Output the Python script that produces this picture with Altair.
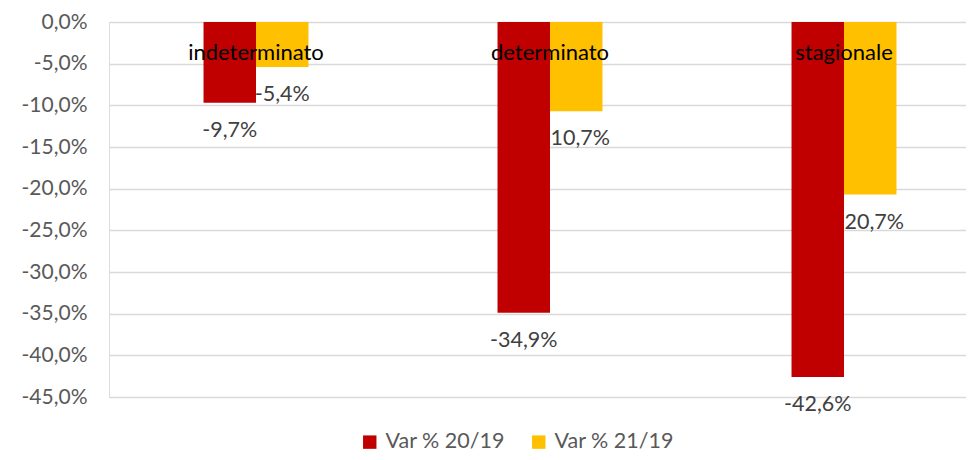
import altair as alt
import pandas as pd

categories = ["indeterminato", "determinato", "stagionale"]
series = ["Var % 20/19", "Var % 21/19"]
var_20_19 = [-9.7, -34.9, -42.6]
var_21_19 = [-5.4, -10.7, -20.7]
y_ticks = [0, -5, -10, -15, -20, -25, -30, -35, -40, -45]

rows = []
for c, a, b in zip(categories, var_20_19, var_21_19):
    rows.append({"cat": c, "serie": series[0], "val": a})
    rows.append({"cat": c, "serie": series[1], "val": b})
df = pd.DataFrame(rows)
df["label"] = df["val"].map(lambda v: f"{v:.1f}".replace(".", ",") + "%")
cats_df = pd.DataFrame({"cat": categories})

FONT = "Lato"
colors = ["#C00000", "#FFC000"]

x_scale = alt.Scale(domain=categories, range=[0, 882], paddingInner=0.643, paddingOuter=0.3215)
y_scale = alt.Scale(domain=[-45, 0], nice=False)

base = alt.Chart(df).encode(
    x=alt.X("cat:N", scale=x_scale, axis=None, sort=categories),
    xOffset=alt.XOffset("serie:N", sort=series),
)

labels = base.mark_text(fontSize=21.5, font=FONT, color="#404040", baseline="middle", dy=28).encode(
    y=alt.Y("val:Q", scale=y_scale),
    text="label:N",
)

bars = base.mark_bar().encode(
    y=alt.Y(
        "val:Q",
        scale=y_scale,
        title=None,
        axis=alt.Axis(
            values=y_ticks,
            labelExpr="(datum.value < 0 ? '-' : '') + replace(format(abs(datum.value), '.1f'), '.', ',') + '%'",
            domain=False,
            ticks=False,
            grid=True,
            gridColor="#D9D9D9",
            gridWidth=1.5,
            labelColor="#595959",
            labelFontSize=21,
            labelFont=FONT,
            labelPadding=22,
        ),
    ),
    y2=alt.datum(0),
    color=alt.Color(
        "serie:N",
        scale=alt.Scale(domain=series, range=colors),
        sort=series,
        legend=alt.Legend(
            title=None,
            orient="none",
            direction="horizontal",
            legendX=250,
            legendY=409,
            symbolType="square",
            symbolSize=180,
            symbolStrokeWidth=0,
            symbolOpacity=1,
            labelFontSize=21.5,
            labelFont=FONT,
            labelColor="#595959",
            labelOffset=5,
            columnPadding=23,
            labelLimit=300,
        ),
    ),
)

cat_labels = alt.Chart(cats_df).mark_text(
    fontSize=22, font=FONT, color="#000000", baseline="middle", dy=31
).encode(
    x=alt.X("cat:N", scale=x_scale, axis=None, sort=categories),
    y=alt.Y("zero:Q", scale=y_scale),
    text="cat:N",
).transform_calculate(zero="0")

chart = alt.layer(labels, bars, cat_labels).properties(
    width=857,
    height=375,
    autosize=alt.AutoSizeParams(type="none"),
    padding={"left": 101, "top": 14, "right": 0, "bottom": 55},
).configure_view(stroke=None).configure(background="white")

chart.save("out.html", embed_options={"renderer": "svg", "actions": False})
